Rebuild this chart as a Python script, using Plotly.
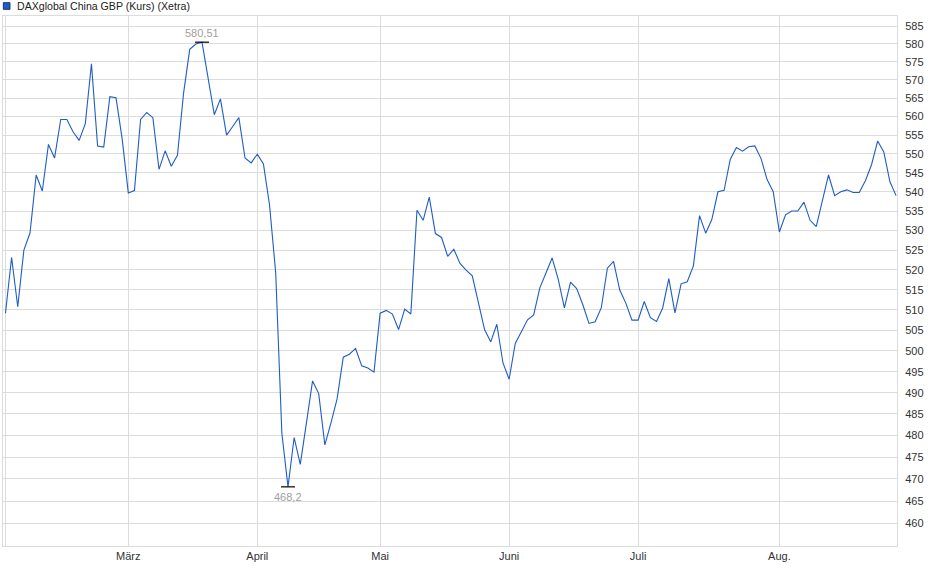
import math

import plotly.graph_objects as go

# DAXglobal China GBP, Xetra closes, one value per trading day (Feb 3 - Aug 28)
closes = [
    509.2, 523.1, 510.8, 525.0, 529.4, 544.4, 540.2, 552.5, 548.9, 559.2,
    559.2, 555.9, 553.6, 558.1, 574.5, 552.1, 551.8, 565.4, 565.1, 554.0,
    539.7, 540.3, 559.2, 561.1, 559.7, 545.9, 550.8, 546.7, 549.6, 566.4,
    578.5, 580.0, 580.51, 571.0, 560.5, 564.8, 555.0, 557.3, 559.7, 548.9,
    547.6, 549.9, 547.3, 536.5, 519.2, 480.5, 468.2, 479.5, 473.3, 482.9,
    492.8, 489.8, 477.8, 482.9, 488.6, 498.5, 499.2, 500.6, 496.4, 495.9,
    494.9, 509.2, 509.9, 509.0, 505.2, 510.2, 509.0, 535.2, 532.6, 538.6,
    529.2, 528.2, 523.4, 525.2, 521.6, 519.9, 518.5, 511.8, 505.2, 502.2,
    506.5, 497.1, 493.2, 501.8, 504.6, 507.6, 508.8, 515.5, 519.2, 523.0,
    517.6, 510.5, 516.9, 515.3, 511.3, 506.7, 507.1, 510.5, 520.4, 522.1,
    515.0, 511.7, 507.5, 507.5, 512.1, 508.1, 507.2, 510.5, 517.8, 509.3,
    516.5, 517.0, 521.0, 533.8, 529.3, 532.8, 540.0, 540.4, 548.5, 551.7,
    550.7, 551.9, 552.1, 548.8, 543.2, 540.0, 529.6, 534.0, 535.0, 535.0,
    537.3, 532.6, 531.0, 537.6, 544.4, 539.0, 540.0, 540.5, 539.8, 539.8,
    542.9, 547.1, 553.4, 550.5, 542.6, 539.0,
]

# index of the first trading day of each month
month_starts = [0, 20, 41, 61, 82, 103, 126]
month_labels = ["", "März", "April", "Mai", "Juni", "Juli", "Aug."]

y_ticks = list(range(460, 590, 5))

title = "DAXglobal China GBP (Kurs) (Xetra)"

LINE = "#1f5cc4"
GRID = "#dcdcdc"
FONT = "Liberation Sans, Arial, sans-serif"

days = list(range(len(closes)))
i_max = closes.index(max(closes))
i_min = closes.index(min(closes))


def de(v):
    return f"{v:g}".replace(".", ",")


fig = go.Figure()
fig.add_trace(go.Scatter(x=days, y=closes, mode="lines",
                         line=dict(color=LINE, width=1.1),
                         hoverinfo="x+y", showlegend=False))
# high / low tick marks
fig.add_trace(go.Scatter(x=[days[i_max], days[i_min]], y=[closes[i_max], closes[i_min]],
                         mode="markers",
                         marker=dict(symbol="line-ew", size=10,
                                     line=dict(color="black", width=1.2)),
                         showlegend=False, hoverinfo="skip"))

fig.update_layout(
    width=940, height=579,
    margin=dict(l=3, r=43, t=16, b=33),
    paper_bgcolor="white", plot_bgcolor="white",
    font=dict(family=FONT, size=11, color="#333333"),
    xaxis=dict(range=[-0.4, 145.15], tickvals=month_starts, ticktext=month_labels,
               showgrid=True, gridcolor=GRID, gridwidth=1, zeroline=False,
               showline=True, linecolor=GRID, mirror=True, ticks=""),
    yaxis=dict(type="log", range=[math.log10(455.0), math.log10(587.9)],
               side="right", tickvals=y_ticks, ticktext=[str(t) for t in y_ticks],
               showgrid=True, gridcolor=GRID, gridwidth=1, zeroline=False,
               showline=True, linecolor=GRID, mirror=True, ticks="",
               ticklabelstandoff=5),
)

# high / low labels (annotation y is in log units on a log axis)
fig.add_annotation(x=days[i_max], y=math.log10(closes[i_max]), text=de(closes[i_max]),
                   showarrow=False, yanchor="bottom", yshift=1,
                   font=dict(size=11, color="#a0a0a0", family=FONT))
fig.add_annotation(x=days[i_min], y=math.log10(closes[i_min]), text=de(closes[i_min]),
                   showarrow=False, yanchor="top", yshift=-2,
                   font=dict(size=11, color="#a0a0a0", family=FONT))

# legend-like title at the top left
fig.add_shape(type="rect", xref="paper", yref="paper",
              x0=0.0004, x1=0.0078, y0=1.0126, y1=1.0251,
              fillcolor=LINE, line=dict(color="#1a3570", width=1))
fig.add_annotation(x=0.0134, y=1.0189, xref="paper", yref="paper",
                   xanchor="left", yanchor="middle", showarrow=False,
                   text=title, font=dict(size=10.6, color="#222222", family=FONT))

# drop the browser's default body margin so the chart sits at the page corner
fig.write_html("out.html", config={"displayModeBar": False},
               post_script="document.body.style.margin='0';")
